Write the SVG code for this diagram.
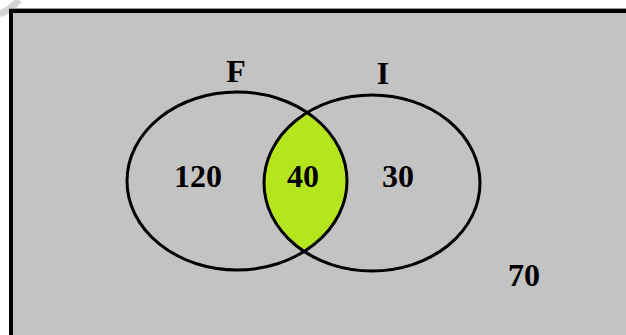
<svg xmlns="http://www.w3.org/2000/svg" width="626" height="335" viewBox="0 0 626 335">
<style>
.lbl{font-family:"Liberation Serif","Times New Roman",serif;font-weight:bold;font-size:32px;fill:#000;text-anchor:middle}
.set{fill:none;stroke:#000;stroke-width:3}
</style>
<defs>
<clipPath id="clipF"><ellipse cx="237" cy="181" rx="110" ry="89"/></clipPath>
</defs>
<rect x="0" y="0" width="626" height="335" fill="#fff"/>
<path d="M0,14 Q10,10 19,0" fill="none" stroke="#d4d4d4" stroke-width="7"/>
<rect x="11" y="11" width="700" height="400" fill="#c3c3c3" stroke="#000" stroke-width="4"/>
<line x1="9" y1="8.5" x2="626" y2="8.5" stroke="#9a9a9a" stroke-width="1"/>
<g id="intersection">
<ellipse cx="372" cy="183" rx="108" ry="88" fill="#b5e61d" clip-path="url(#clipF)"/>
</g>
<g id="setF">
<ellipse class="set" cx="237" cy="181" rx="110" ry="89"/>
<text class="lbl" x="236" y="82">F</text>
</g>
<g id="setI">
<ellipse class="set" cx="372" cy="183" rx="108" ry="88"/>
<text class="lbl" x="383" y="84">I</text>
</g>
<g id="values">
<text class="lbl" x="198" y="187">120</text>
<text class="lbl" x="303" y="187">40</text>
<text class="lbl" x="398" y="187">30</text>
<text class="lbl" x="524" y="286">70</text>
</g>
<g id="connectors"></g>
</svg>
